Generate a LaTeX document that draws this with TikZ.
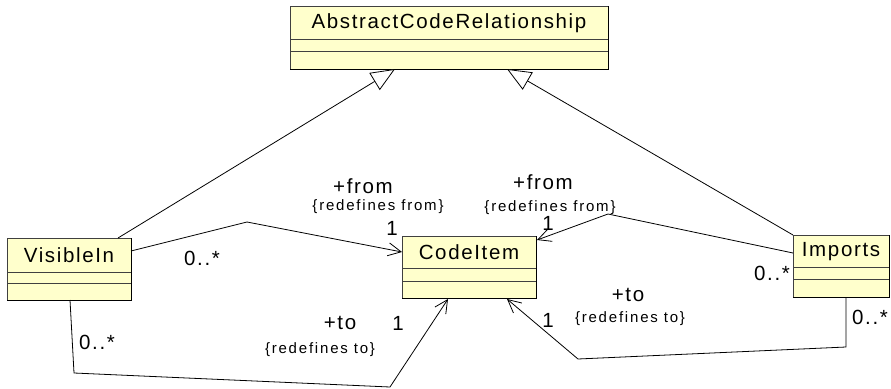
\documentclass[tikz,border=0pt]{standalone}
\usepackage{fontspec}
\usetikzlibrary{arrows.meta,calc}
\newfontfamily\lblfont{Liberation Sans}[LetterSpace=8]
\newfontfamily\lblsmallfont{Liberation Sans}[LetterSpace=12]
\newcommand\bigtxt{\lblfont\fontsize{20.5}{23}\selectfont}
\newcommand\smalltxt{\lblsmallfont\fontsize{15}{17}\selectfont}
\definecolor{clsfill}{HTML}{FFFFCC}
\definecolor{clsline}{HTML}{404040}
\tikzset{
  cls/.style={draw=clsline, line width=0.9pt, fill=clsfill, inner sep=0pt, rectangle},
  shadowedge/.style={line width=1.8pt, black},
  conn/.style={line width=0.8pt, black},
  assoc/.style={conn, -{Straight Barb[length=13pt,width=13pt,line width=0.8pt]}},
  gen/.style={conn, -{Triangle[open,length=24pt,width=20pt,fill=white,line width=0.8pt]}},
  big/.style={font=\bigtxt, inner sep=0pt},
  small/.style={font=\smalltxt, inner sep=0pt},
}
\newcommand\umlclass[8]{%
  \node[cls, minimum width={(#4-#2)*1pt}, minimum height={(#5-#3)*1pt}] (#1) at ({(#2+#4)/2},{(#3+#5)/2}) {};
  \node[big] (#1-name) at ({(#2+#4)/2},{(#3+#6)/2+0.5}) {#8};
  \draw[clsline, line width=0.9pt] (#2,#6) -- (#4,#6);
  \draw[clsline, line width=0.9pt] (#2,#7) -- (#4,#7);
  \draw[shadowedge] ({#4+0.4},#3) -- ({#4+0.4},{#5+0.4}) -- (#2,{#5+0.4});
}
\begin{document}
\begin{tikzpicture}[x=1pt,y=-1pt]
\useasboundingbox (0,0) rectangle (891,388);
\fill[white] (0,0) rectangle (891,388);

\umlclass{acr}{290}{6}{608}{69}{39}{51}{AbstractCodeRelationship}
\umlclass{vis}{7}{238}{131}{300}{272}{283}{VisibleIn}
\umlclass{code}{402}{236}{536}{298}{268}{281}{CodeItem}
\umlclass{imp}{793}{235}{889}{297}{267}{279}{Imports}

% generalizations
\coordinate (g1s) at (118,238);
\coordinate (g1t) at (395,69);
\coordinate (g2s) at (793,235);
\coordinate (g2t) at (507,69);
\draw[gen] (g1s) -- (g1t);
\draw[gen] (g2s) -- (g2t);

% VisibleIn -> CodeItem (from)
\coordinate (a1s) at (131,251);
\coordinate (a1b) at (247,222);
\coordinate (a1t) at (402,252);
\draw[assoc] (a1s) -- (a1b) -- (a1t);

% VisibleIn -> CodeItem (to)
\coordinate (a2s) at (70,300);
\coordinate (a2b) at (74,373);
\coordinate (a2c) at (390,387);
\coordinate (a2t) at (448,299);
\draw[assoc] (a2s) -- (a2b) -- (a2c) -- (a2t);

% Imports -> CodeItem (from)
\coordinate (a3s) at (793,253);
\coordinate (a3b) at (608,214);
\coordinate (a3t) at (537,240);
\draw[assoc] (a3s) -- (a3b) -- (a3t);

% Imports -> CodeItem (to)
\coordinate (a4s) at (846,298);
\coordinate (a4b) at (846,347);
\coordinate (a4c) at (578,359);
\coordinate (a4t) at (507,299);
\draw[assoc] (a4s) -- (a4b) -- (a4c) -- (a4t);

% labels
\node[big] (l1) at (363,186) {+from};
\node[small] (l2) at (378,207) {\{redefines from\}};
\node[big] (l3) at (392,228) {1};
\node[big] (l4) at (202,258) {0..*};

\node[big] (l5) at (97,342) {0..*};
\node[big] (l6) at (340,323) {+to};
\node[big] (l7) at (398,323) {1};
\node[small] (l8) at (320,350) {\{redefines to\}};

\node[big] (l9) at (543,182) {+from};
\node[small] (l10) at (550,208) {\{redefines from\}};
\node[big] (l11) at (548,223) {1};
\node[big] (l12) at (772,273) {0..*};

\node[big] (l13) at (548,320) {1};
\node[big] (l14) at (628,295) {+to};
\node[small] (l15) at (630,319) {\{redefines to\}};
\node[big] (l16) at (870,317) {0..*};
\end{tikzpicture}
\end{document}
